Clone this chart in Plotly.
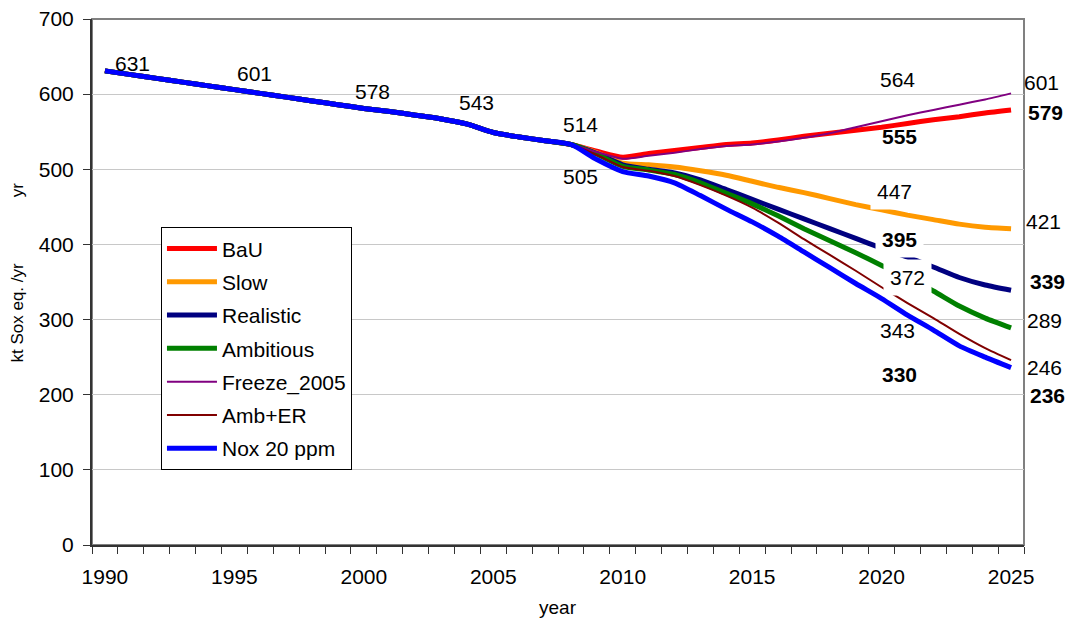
import plotly.graph_objects as go

# ---------------- data ----------------
years = list(range(1990, 2026))

history = [631, 626, 621, 616, 611, 606, 601, 596, 591, 586,
           581, 577, 572, 567, 560, 549, 543, 538, 533]          # 1990-2008 (shared)

bau        = [524, 516, 521, 525, 529, 533, 535, 539, 544, 548, 552, 556, 561, 566, 570, 575, 579]
slow       = [522, 508, 506, 503, 498, 492, 484, 476, 469, 461, 453, 446, 439, 433, 427, 423, 421]
realistic  = [521, 506, 500, 495, 486, 473, 460, 447, 434, 421, 408, 395, 383, 370, 356, 346, 339]
ambitious  = [520, 504, 499, 493, 482, 468, 454, 438, 421, 405, 389, 372, 356, 338, 318, 302, 289]
freeze     = [523, 514, 518, 522, 527, 531, 533, 537, 542, 548, 556, 564, 572, 579, 586, 593, 601]
amb_er     = [519, 503, 498, 491, 479, 465, 449, 429, 407, 386, 365, 343, 322, 302, 281, 262, 246]
nox20      = [513, 497, 491, 482, 465, 447, 430, 411, 390, 369, 348, 328, 306, 286, 265, 250, 236]

series_names = ["BaU", "Slow", "Realistic", "Ambitious", "Freeze_2005", "Amb+ER", "Nox 20 ppm"]
series_proj = [bau, slow, realistic, ambitious, freeze, amb_er, nox20]

tick_years = [1990, 1995, 2000, 2005, 2010, 2015, 2020, 2025]
y_ticks = [0, 100, 200, 300, 400, 500, 600, 700]

# data-label texts shown on the chart
label_texts = ["631", "601", "578", "543", "514", "505",
               "564", "555", "447", "395", "372", "343", "330",
               "601", "579", "421", "339", "289", "246", "236"]

# ---------------- styles ----------------
colors = ["#FF0000", "#FF9900", "#000080", "#008000", "#800080", "#800000", "#0000FF"]
widths = [5, 5, 5, 5, 2, 2, 5]
FONT = "Liberation Sans, Arial, sans-serif"
FS = 21

fig = go.Figure()
for name, proj, c, w in zip(series_names, series_proj, colors, widths):
    fig.add_trace(go.Scatter(
        x=years, y=history + proj, name=name, mode="lines",
        line=dict(color=c, width=w, shape="spline", smoothing=0.6),
        legendgroup=name,
    ))

# label placement: (x year, y value, xshift px)
placements = [
    (1991.05, 641, 0), (1995.76, 627, 0), (2000.35, 603, 0), (2004.37, 589, 0), (2008.35, 560, 0), (2008.35, 491, 0),
    (2020.63, 619, 0), (2020.71, 544, 0), (2020.51, 471, 0), (2020.71, 407, 0), (2021.0, 356, 0), (2020.63, 285, 0), (2020.71, 227, 0),
    (2025, 616, 30.5), (2025, 575, 34.5), (2025, 431, 32.5), (2025, 351, 36.5), (2025, 299, 33.5), (2025, 236, 33.5), (2025, 199, 36.5),
]
bold_idx = {7, 9, 12, 14, 16, 19}
bg_idx = {8, 9, 10}

annotations = []
for i, (txt, (xx, yy, xs)) in enumerate(zip(label_texts, placements)):
    t = f"<b>{txt}</b>" if i in bold_idx else txt
    ann = dict(x=xx, y=yy, xref="x", yref="y", xshift=xs, text=t, showarrow=False,
               font=dict(family=FONT, size=FS, color="black"),
               xanchor="center", yanchor="middle")
    if i in bg_idx:
        ann.update(bgcolor="white", borderpad=6)
    annotations.append(ann)

# axis titles
annotations.append(dict(x=0.5, y=0, xref="paper", yref="paper", yshift=-62,
                        text="year", showarrow=False, xanchor="center", yanchor="middle",
                        font=dict(family=FONT, size=19, color="black")))
annotations.append(dict(x=0, y=0.518, xref="paper", yref="paper", xshift=-74,
                        text="kt Sox eq. /yr" + " " * 14 + "yr", textangle=-90, showarrow=False,
                        xanchor="center", yanchor="middle",
                        font=dict(family=FONT, size=17, color="black")))

# page body has an 8px default margin: compensate so the plot area lands where intended
fig.update_layout(
    width=1069, height=613,
    margin=dict(l=84, r=53, t=11, b=76, autoexpand=False),
    paper_bgcolor="white", plot_bgcolor="white",
    font=dict(family=FONT, size=FS, color="black"),
    showlegend=True,
    legend=dict(x=0.074, y=0.604, xanchor="left", yanchor="top",
                bgcolor="white", bordercolor="black", borderwidth=1,
                font=dict(family=FONT, size=FS, color="black"),
                tracegroupgap=3, itemwidth=50),
    annotations=annotations,
    shapes=[dict(type="rect", xref="paper", yref="paper", x0=0, x1=1, y0=0, y1=1,
                 line=dict(color="#808080", width=2), layer="below")],
)

fig.update_xaxes(
    range=[1989.5, 2025.5], tickmode="array", tickvals=tick_years,
    ticktext=[str(t) for t in tick_years],
    ticks="outside", ticklen=12, tickcolor="rgba(0,0,0,0)",
    ticklabeloverflow="allow", automargin=False,
    showgrid=False, zeroline=False,
    showline=True, linecolor="#333333", linewidth=2,
    tickfont=dict(family=FONT, size=FS, color="black"),
    minor=dict(tickmode="linear", tick0=1989.5, dtick=1, ticks="outside",
               ticklen=7, tickcolor="#333333", tickwidth=1, showgrid=False),
)
fig.update_yaxes(
    range=[0, 700], tickmode="array", tickvals=y_ticks,
    ticks="outside", ticklen=7, tickcolor="#333333", tickwidth=1,
    ticklabelstandoff=5, ticklabeloverflow="allow", automargin=False,
    showgrid=True, gridcolor="#C8C8C8", gridwidth=1, zeroline=False,
    showline=True, linecolor="#333333", linewidth=2,
    tickfont=dict(family=FONT, size=FS, color="black"),
)

fig.write_html("out.html")
